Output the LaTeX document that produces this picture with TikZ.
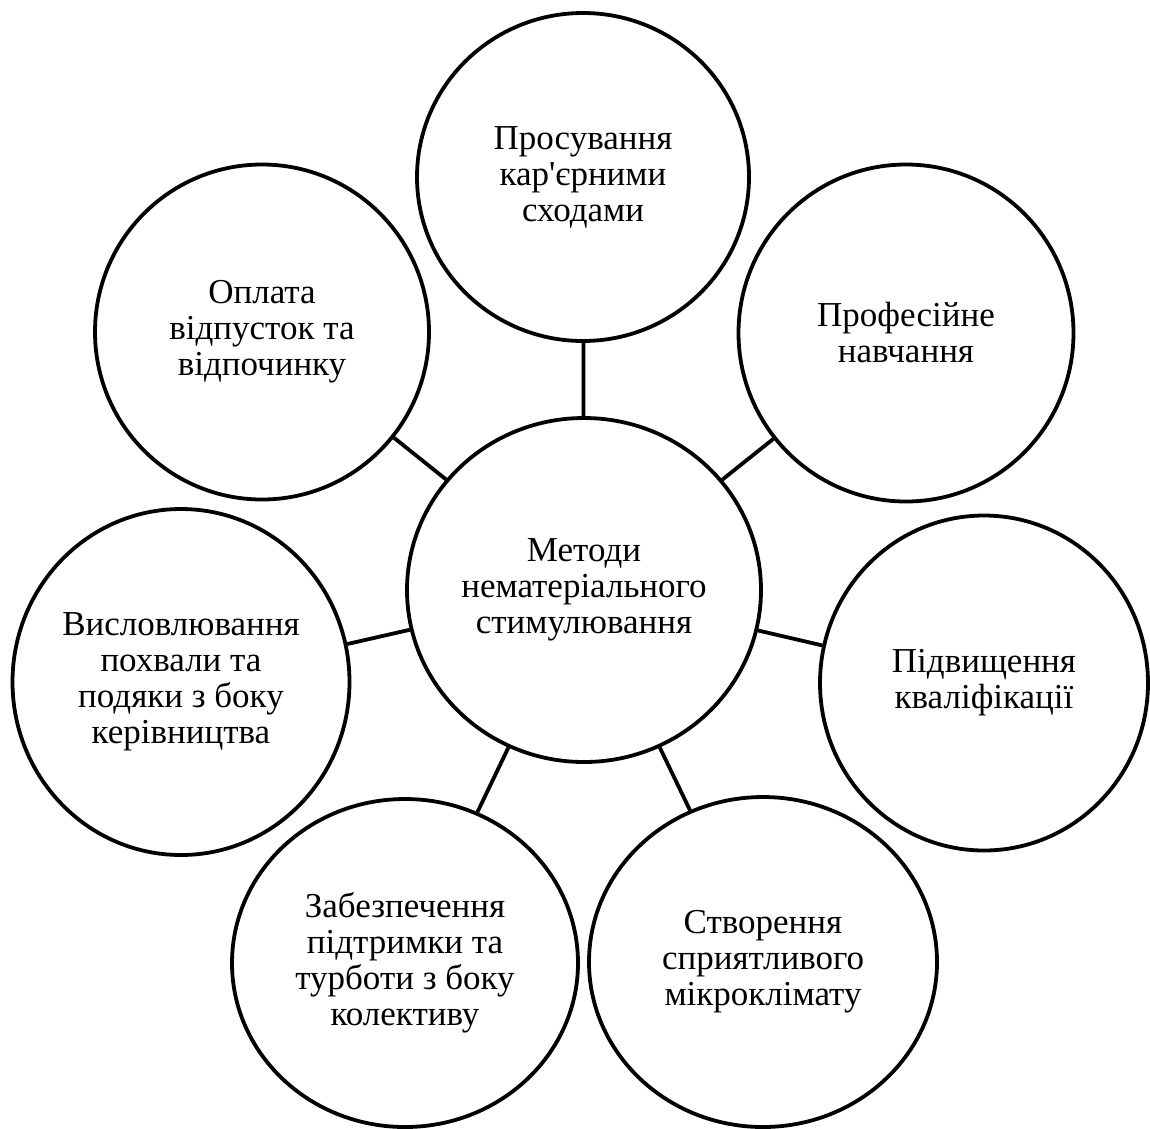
\documentclass[tikz,border=0pt]{standalone}
\usepackage{fontspec}
\setmainfont{Liberation Serif}[Ligatures=TeXOff]
\usepackage{tikz}
\usetikzlibrary{positioning, shapes.geometric}

\begin{document}
\begin{tikzpicture}[x=1pt, y=-1pt, every node/.style={draw, ellipse, line width=3.8pt, inner sep=0pt, align=center, font=\fontsize{35}{36}\selectfont}, link/.style={line width=3.8pt}]
\useasboundingbox (0,0) rectangle (1150,1128);
\node[minimum width=354pt, minimum height=344pt] (metody) at (584,590) {Методи\\нематеріального\\стимулювання};
\foreach \n/\x/\y/\w/\h/\t in {
	kariera/583/177/332/328/{Просування\\кар'єрними\\сходами},
	navchannia/906/333/335/337/{Професійне\\навчання},
	kvalifikatsiia/984/683/328/335/{Підвищення\\кваліфікації},
	mikroklimat/763/962/348/330/{Створення\\сприятливого\\мікроклімату},
	pidtrymka/405/963/346/328/{Забезпечення\\підтримки та\\турботи з боку\\колективу},
	pokhvala/181/682/337/346/{Висловлювання\\похвали та\\подяки з боку\\керівництва},
	oplata/262/332/334/335/{Оплата\\відпусток та\\відпочинку}} {
	\node[minimum width=\w pt, minimum height=\h pt] (\n) at (\x,\y) {\t};
	\draw[link] (metody) -- (\n);
}
\end{tikzpicture}
\end{document}
